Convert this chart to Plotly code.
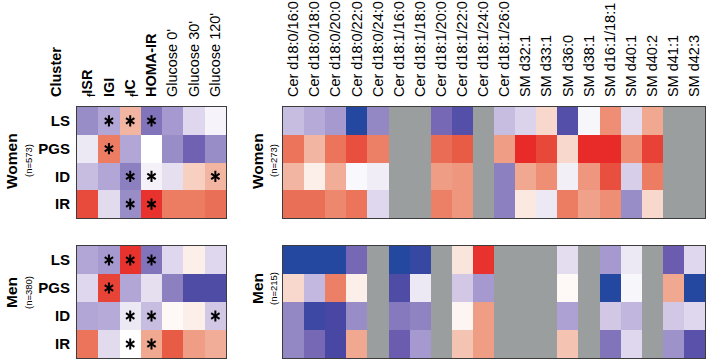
import plotly.graph_objects as go

FONT = "Liberation Sans, Arial, sans-serif"

clusters = ["LS", "PGS", "ID", "IR"]
clin_labels = ["<b><sub>f</sub>ISR</b>", "<b>IGI</b>", "<b><sub>f</sub>IC</b>", "<b>HOMA-IR</b>",
               "Glucose 0'", "Glucose 30'", "Glucose 120'"]
lipid_labels = ["Cer d18:0/16:0", "Cer d18:0/18:0", "Cer d18:0/20:0", "Cer d18:0/22:0",
                "Cer d18:0/24:0", "Cer d18:1/16:0", "Cer d18:1/18:0", "Cer d18:1/20:0",
                "Cer d18:1/22:0", "Cer d18:1/24:0", "Cer d18:1/26:0", "SM d32:1", "SM d33:1",
                "SM d36:0", "SM d38:1", "SM d16:1/18:1", "SM d40:1", "SM d40:2", "SM d41:1",
                "SM d42:3"]

clin_women = [
    [-0.5, -0.4, 0.25, -0.6, -0.45, -0.18, -0.05],
    [-0.1, 0.5, -0.4, 0.0, -0.5, -0.68, -0.5],
    [-0.3, -0.4, -0.55, -0.06, -0.14, 0.15, 0.25],
    [0.8, -0.16, -0.5, 0.95, 0.5, 0.5, 0.58],
]
clin_men = [
    [-0.4, -0.45, 0.95, -0.6, -0.18, 0.05, -0.18],
    [-0.18, 0.85, -0.4, -0.14, -0.55, -0.82, -0.82],
    [-0.4, -0.38, -0.1, -0.3, 0.02, 0.05, -0.25],
    [0.55, -0.16, 0.0, 0.3, 0.7, 0.35, 0.28],
]
N = None
lipid_women = [
    [-0.3, -0.38, -0.45, -1.0, -0.52, N, N, -0.65, -0.8, N, -0.3, -0.2, 0.12, -0.8, -0.04, 0.42, -0.15, 0.3, N, N],
    [0.55, 0.25, 0.55, 0.78, 0.48, N, N, 0.6, 0.7, N, 0.35, 1.0, 0.82, 0.12, 1.0, 1.0, 0.42, 0.86, N, N],
    [0.25, 0.05, 0.28, -0.03, -0.08, N, N, 0.35, 0.38, N, -0.55, 0.3, 0.42, -0.07, 0.38, 0.78, -0.22, 0.5, N, N],
    [0.58, 0.58, 0.45, 0.55, -0.18, N, N, 0.48, 0.38, N, -0.55, 0.07, -0.1, 0.5, 0.33, 0.42, -0.5, 0.12, N, N],
]
lipid_men = [
    [-1.0, -1.0, -1.0, -0.65, N, -1.0, -0.92, N, 0.08, 0.95, N, N, N, -0.15, N, -0.45, -0.1, N, -0.7, -0.18],
    [0.12, -0.32, 0.48, 0.05, N, -0.82, -0.1, N, -0.25, -0.45, N, N, N, 0.02, N, -1.0, -0.04, N, 0.3, -1.0],
    [-0.52, -0.9, -0.85, -0.5, N, -0.58, -0.54, N, 0.03, 0.35, N, N, N, -0.42, N, -0.25, -0.33, N, -0.25, -0.18],
    [-0.52, -0.65, -0.85, 0.3, N, -0.7, -0.45, N, 0.2, 0.35, N, N, N, 0.2, N, -0.6, -0.18, N, -0.48, -0.78],
]
stars_women = [[0, 1, 1, 1, 0, 0, 0], [0, 1, 0, 0, 0, 0, 0], [0, 0, 1, 1, 0, 0, 1], [0, 0, 1, 1, 0, 0, 0]]
stars_men = [[0, 1, 1, 1, 0, 0, 0], [0, 1, 0, 0, 0, 0, 0], [0, 0, 1, 1, 0, 0, 1], [0, 0, 1, 1, 0, 0, 0]]

groups = [("Women", "(n=573)", "(n=273)"), ("Men", "(n=380)", "(n=215)")]

colorscale = [
    [0.0, "#2447a0"], [0.075, "#4848a4"], [0.15, "#6c5cb0"], [0.225, "#8c80c0"],
    [0.3, "#b2a6d6"], [0.375, "#d2c8e6"], [0.45, "#ece8f4"], [0.5, "#ffffff"],
    [0.56, "#f8d8cc"], [0.65, "#f0a890"], [0.75, "#ec7c62"], [0.85, "#e85c46"],
    [1.0, "#e82a28"],
]

fig = go.Figure()

W, H = 709, 359
def px_x(a, b):
    return [a / W, b / W]
def px_y(top, bot):
    return [1 - bot / H, 1 - top / H]

left_x = px_x(77, 226)
right_x = px_x(283, 705)
ydoms = [px_y(107, 218), px_y(246, 358)]

data = [(clin_women, lipid_women, stars_women), (clin_men, lipid_men, stars_men)]

for g, (clin, lip, stars) in enumerate(data):
    ax_l = 2 * g + 1
    ax_r = 2 * g + 2
    sl = "" if ax_l == 1 else str(ax_l)
    sr = str(ax_r)
    fig.add_trace(go.Heatmap(z=clin, x=list(range(len(clin_labels))), y=list(range(len(clusters))),
                             colorscale=colorscale, zmin=-1, zmax=1, showscale=False,
                             xaxis="x" + sl, yaxis="y" + sl, hoverongaps=False))
    fig.add_trace(go.Heatmap(z=lip, x=list(range(len(lipid_labels))), y=list(range(len(clusters))),
                             colorscale=colorscale, zmin=-1, zmax=1, showscale=False,
                             xaxis="x" + sr, yaxis="y" + sr, hoverongaps=False))
    sx, sy = [], []
    for r, row in enumerate(stars):
        for c, v in enumerate(row):
            if v:
                sx.append(c)
                sy.append(r)
    for sym in ["y-up-open", "y-down-open"]:
        fig.add_trace(go.Scatter(x=sx, y=sy, mode="markers", xaxis="x" + sl, yaxis="y" + sl,
                                 marker=dict(symbol=sym, size=7, color="black",
                                             line=dict(color="black", width=2)),
                                 showlegend=False, hoverinfo="skip"))

axis_common = dict(showline=True, mirror=True, linecolor="#3c3c3c", linewidth=1,
                   showgrid=False, zeroline=False, ticks="")
lay = dict()
for g in range(2):
    ax_l = 2 * g + 1
    ax_r = 2 * g + 2
    kl = "" if ax_l == 1 else str(ax_l)
    kr = str(ax_r)
    top = g == 0
    lay["xaxis" + kl] = dict(axis_common, domain=left_x, anchor="y" + kl, side="top",
                             range=[-0.5, len(clin_labels) - 0.5],
                             tickmode="array", tickvals=list(range(len(clin_labels))),
                             ticktext=clin_labels, tickangle=-90, showticklabels=top,
                             tickfont=dict(family=FONT, size=14.5, color="black"),
                             ticklabelstandoff=6)
    lay["yaxis" + kl] = dict(axis_common, domain=ydoms[g], anchor="x" + kl,
                             range=[len(clusters) - 0.5, -0.5],
                             tickmode="array", tickvals=list(range(len(clusters))),
                             ticktext=["<b>%s</b>" % c for c in clusters],
                             tickfont=dict(family=FONT, size=15, color="black"),
                             ticklabelstandoff=3)
    lay["xaxis" + kr] = dict(axis_common, domain=right_x, anchor="y" + kr, side="top",
                             range=[-0.5, len(lipid_labels) - 0.5],
                             tickmode="array", tickvals=list(range(len(lipid_labels))),
                             ticktext=lipid_labels, tickangle=-90, showticklabels=top,
                             tickfont=dict(family=FONT, size=14.5, color="black"),
                             ticklabelstandoff=6)
    lay["yaxis" + kr] = dict(axis_common, domain=ydoms[g], anchor="x" + kr,
                             range=[len(clusters) - 0.5, -0.5], showticklabels=False)

annotations = [dict(text="<b>Cluster</b>", x=56 / W, y=1 - 99 / H, xref="paper", yref="paper",
                    xanchor="center", yanchor="bottom", textangle=-90, showarrow=False,
                    font=dict(family=FONT, size=14.5, color="black"))]
label_pos = [(161, 161), (293, 289)]
for g, (name, nl, nr) in enumerate(groups):
    yl, yr = label_pos[g]
    for xc, xn, yc, n in [(11, 28, yl, nl), (257, 273, yr, nr)]:
        annotations.append(dict(text="<b>%s</b>" % name, x=xc / W, y=1 - yc / H, xref="paper",
                                yref="paper", xanchor="center", yanchor="middle", textangle=-90,
                                showarrow=False, font=dict(family=FONT, size=15.5, color="black")))
        annotations.append(dict(text=n, x=xn / W, y=1 - yc / H, xref="paper", yref="paper",
                                xanchor="center", yanchor="middle", textangle=-90,
                                showarrow=False, font=dict(family=FONT, size=9.5, color="black")))

fig.update_layout(width=W, height=H, margin=dict(l=0, r=0, t=0, b=0),
                  paper_bgcolor="white", plot_bgcolor="#9a9e9e", showlegend=False,
                  annotations=annotations, **lay)

fig.write_html("out.html", config={"displayModeBar": False})
